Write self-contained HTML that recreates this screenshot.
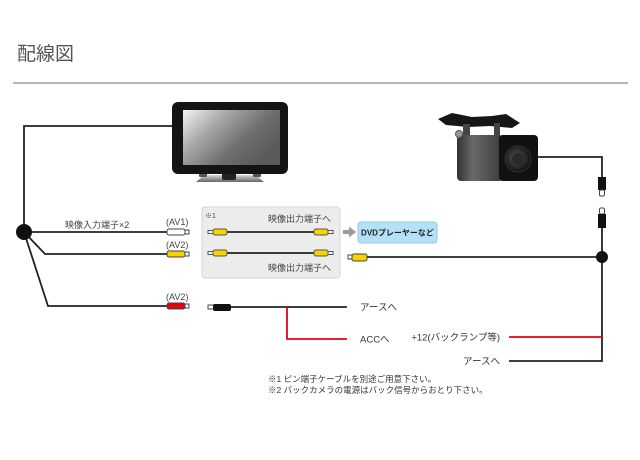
<!DOCTYPE html>
<html>
<head>
<meta charset="utf-8">
<style>
  html,body{margin:0;padding:0;background:#fff;}
  body{width:640px;height:460px;overflow:hidden;}
  svg{display:block;}
  text{font-family:"Liberation Sans","Noto Sans CJK JP",sans-serif;}
</style>
</head>
<body>
<svg width="640" height="460" viewBox="0 0 640 460" xmlns="http://www.w3.org/2000/svg">
  <defs>
    <linearGradient id="scr" x1="0" y1="0" x2="1" y2="0.6">
      <stop offset="0" stop-color="#f4f4f4"/>
      <stop offset="0.35" stop-color="#a8a8a8"/>
      <stop offset="0.7" stop-color="#6e6e6e"/>
      <stop offset="1" stop-color="#5a5a5a"/>
    </linearGradient>
    <linearGradient id="stand" x1="0" y1="0" x2="0" y2="1">
      <stop offset="0" stop-color="#d8d8d8"/>
      <stop offset="1" stop-color="#666"/>
    </linearGradient>
    <linearGradient id="camside" x1="0" y1="0" x2="1" y2="0">
      <stop offset="0" stop-color="#333"/>
      <stop offset="0.35" stop-color="#6a6a6a"/>
      <stop offset="1" stop-color="#3a3a3a"/>
    </linearGradient>
    <radialGradient id="lens" cx="0.45" cy="0.45" r="0.6">
      <stop offset="0" stop-color="#555"/>
      <stop offset="0.6" stop-color="#2a2a2a"/>
      <stop offset="1" stop-color="#0a0a0a"/>
    </radialGradient>
  </defs>

  <!-- title -->
  <text x="17" y="60" font-size="19" fill="#555">配線図</text>
  <line x1="13" y1="83" x2="628" y2="83" stroke="#8a8a8a" stroke-width="1.2"/>

  <!-- monitor -->
  <path d="M196,182 L204,175 L256,175 L264,182 Z" fill="url(#stand)"/>
  <rect x="199" y="173" width="8" height="4" rx="1" fill="#555"/>
  <rect x="253" y="173" width="8" height="4" rx="1" fill="#555"/>
  <rect x="222" y="172" width="14" height="8" rx="2" fill="#222"/>
  <rect x="172" y="102" width="116" height="72" rx="6" fill="#141414"/>
  <rect x="183" y="110" width="97" height="55" fill="url(#scr)"/>

  <!-- camera -->
  <path d="M438,119 L452,113 L472,117 L492,116 L506,114 L520,123 L512,128 L490,126 L468,127 L446,125 Z" fill="#161616"/>
  <rect x="463" y="124" width="7" height="14" fill="#444"/>
  <rect x="494" y="123" width="6" height="14" fill="#444"/>
  <rect x="457" y="135" width="46" height="46" rx="4" fill="url(#camside)"/>
  <circle cx="459" cy="134" r="3.5" fill="#999" stroke="#555" stroke-width="1"/>
  <rect x="499" y="135" width="39" height="46" rx="4" fill="#111"/>
  <circle cx="518" cy="159" r="13" fill="url(#lens)" stroke="#333" stroke-width="1"/>
  <circle cx="518" cy="159" r="6" fill="#2a2a2a"/>

  <!-- monitor cable & left harness -->
  <g fill="none" stroke="#222" stroke-width="1.8">
    <path d="M172,126 H24 V232"/>
    <path d="M24,232 H167"/>
    <path d="M24,232 L45,254 H167"/>
    <path d="M24,232 L48,306 H167"/>
  </g>
  <circle cx="24" cy="232" r="8" fill="#111"/>

  <text x="65" y="228" font-size="9" fill="#444">映像入力端子×2</text>
  <text x="166" y="225" font-size="9" fill="#444">(AV1)</text>
  <text x="166" y="248" font-size="9" fill="#444">(AV2)</text>
  <text x="166" y="300" font-size="9" fill="#444">(AV2)</text>

  <!-- left plugs -->
  <g stroke="#444" stroke-width="1">
    <rect x="167" y="229" width="18" height="6" rx="2" fill="#fff"/>
    <rect x="185" y="230" width="4" height="4" fill="#fff"/>
    <rect x="167" y="251" width="18" height="6" rx="2" fill="#f5d400"/>
    <rect x="185" y="252" width="4" height="4" fill="#fff"/>
    <rect x="167" y="303" width="18" height="6" rx="2" fill="#e60012"/>
    <rect x="185" y="304" width="4" height="4" fill="#fff"/>
  </g>

  <!-- gray box -->
  <rect x="202" y="207" width="138" height="71" rx="3" fill="#ececec" stroke="#d6d6d6" stroke-width="1"/>
  <text x="205" y="218" font-size="7" fill="#444">※1</text>
  <text x="268" y="222" font-size="9" fill="#444">映像出力端子へ</text>
  <text x="268" y="271" font-size="9" fill="#444">映像出力端子へ</text>
  <g stroke="#222" stroke-width="1.8">
    <line x1="227" y1="232" x2="314" y2="232"/>
    <line x1="227" y1="253" x2="314" y2="253"/>
  </g>
  <g stroke="#555" stroke-width="1">
    <rect x="208" y="230.5" width="5" height="3" fill="#fff"/>
    <rect x="213" y="229" width="14" height="6" rx="2" fill="#f5d400"/>
    <rect x="314" y="229" width="14" height="6" rx="2" fill="#f5d400"/>
    <rect x="328" y="230.5" width="5" height="3" fill="#fff"/>
    <rect x="208" y="251.5" width="5" height="3" fill="#fff"/>
    <rect x="213" y="250" width="14" height="6" rx="2" fill="#f5d400"/>
    <rect x="314" y="250" width="14" height="6" rx="2" fill="#f5d400"/>
    <rect x="328" y="251.5" width="5" height="3" fill="#fff"/>
  </g>

  <!-- arrow & DVD box -->
  <rect x="343" y="230" width="7" height="4" fill="#9a9a9a"/>
  <path d="M349,226.5 L356,232 L349,237.5 Z" fill="#9a9a9a"/>
  <rect x="358" y="222" width="79" height="21" rx="3" fill="#b5e1f7" stroke="#92c9e6" stroke-width="1"/>
  <text x="397.5" y="235.5" font-size="8" font-weight="bold" fill="#222" text-anchor="middle">DVDプレーヤーなど</text>

  <!-- right side wiring -->
  <g fill="none" stroke="#222" stroke-width="1.8">
    <path d="M367,257 H602"/>
    <path d="M537,157 H602 V177"/>
    <path d="M602,228 V361 H509"/>
  </g>
  <line x1="509" y1="337" x2="602" y2="337" stroke="#e60012" stroke-width="1.8"/>
  <circle cx="602" cy="257" r="6" fill="#111"/>

  <g stroke="#444" stroke-width="1">
    <rect x="348" y="255" width="5" height="4" fill="#fff"/>
    <rect x="352" y="254" width="15" height="7" rx="2" fill="#f5d400"/>
  </g>

  <!-- camera connectors -->
  <rect x="598" y="177" width="8" height="13" fill="#111"/>
  <rect x="599.5" y="190" width="5" height="6" rx="1.5" fill="#fff" stroke="#444" stroke-width="1"/>
  <rect x="599.5" y="208" width="5" height="6" rx="1.5" fill="#fff" stroke="#444" stroke-width="1"/>
  <rect x="598" y="214" width="8" height="14" fill="#111"/>

  <!-- bottom power harness -->
  <rect x="208" y="305" width="6" height="4" fill="#fff" stroke="#444" stroke-width="1"/>
  <rect x="213" y="304" width="18" height="7" rx="2" fill="#111"/>
  <line x1="231" y1="307" x2="347" y2="307" stroke="#222" stroke-width="1.8"/>
  <path d="M287,307 V339 H347" fill="none" stroke="#e60012" stroke-width="1.8"/>

  <text x="360" y="310.5" font-size="9.5" fill="#333">アースへ</text>
  <text x="360" y="342.5" font-size="9.5" fill="#333">ACCへ</text>
  <text x="500" y="340.5" font-size="9.5" fill="#333" text-anchor="end">+12(バックランプ等)</text>
  <text x="500" y="364.5" font-size="9.5" fill="#333" text-anchor="end">アースへ</text>

  <!-- notes -->
  <text x="268" y="382" font-size="8.5" fill="#333">※1 ピン端子ケーブルを別途ご用意下さい。</text>
  <text x="268" y="393" font-size="8.5" fill="#333">※2 バックカメラの電源はバック信号からおとり下さい。</text>
</svg>
</body>
</html>
